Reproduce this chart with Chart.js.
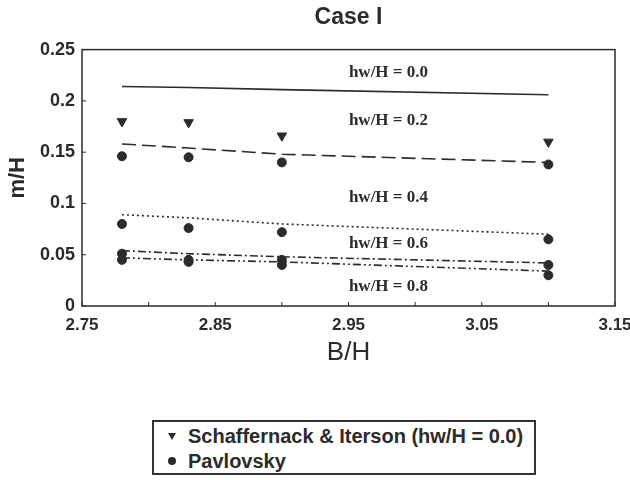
<!DOCTYPE html>
<html>
<head>
<meta charset="utf-8">
<script src="https://cdn.jsdelivr.net/npm/chart.js@4.4.0/dist/chart.umd.min.js"></script>
<style>
  html, body { margin: 0; padding: 0; background: #fff; }
  #wrap { position: relative; width: 630px; height: 480px; }
  #legend {
    position: absolute; left: 152px; top: 420px; width: 380px; height: 51px;
    border: 2px solid #333; background: #fff;
    font: bold 20px Arial, "Liberation Sans", sans-serif; color: #2b2b2b;
  }
  .item { position: absolute; left: 14px; height: 24px; line-height: 24px; white-space: nowrap; }
  .tri { display: inline-block; width: 0; height: 0; border-left: 4px solid transparent;
    border-right: 4px solid transparent; border-top: 7px solid #2b2b2b; margin: 0 12px 3px 0; vertical-align: middle; }
  .dot { display: inline-block; width: 8px; height: 8px; border-radius: 50%; background: #2b2b2b;
    margin: 0 12px 3px 0; vertical-align: middle; }
</style>
</head>
<body>
<div id="wrap">
  <canvas id="chart" width="630" height="480"></canvas>
  <div id="legend">
    <div class="item" style="top:2px"><span class="tri"></span>Schaffernack &amp; Iterson (hw/H = 0.0)</div>
    <div class="item" style="top:27px"><span class="dot"></span>Pavlovsky</div>
  </div>
</div>
<script>
// B/H positions of the four cases
const bh = [2.78, 2.83, 2.90, 3.10];

// Schaffernack & Iterson (hw/H = 0.0)
const schaffernack = [0.180, 0.179, 0.166, 0.160];

// Pavlovsky points for hw/H = 0.2 .. 0.8
const pav02 = [0.146, 0.145, 0.140, 0.138];
const pav04 = [0.080, 0.076, 0.072, 0.065];
const pav06 = [0.051, 0.045, 0.045, 0.040];
const pav08 = [0.045, 0.043, 0.040, 0.030];

// curves for each hw/H
const line00 = [0.214, 0.213, 0.211, 0.206];
const line02 = [0.158, 0.154, 0.148, 0.140];
const line04 = [0.089, 0.086, 0.080, 0.070];
const line06 = [0.054, 0.051, 0.048, 0.042];
const line08 = [0.047, 0.045, 0.043, 0.034];

// in-plot labels (placed in data units)
const labelText = ['hw/H = 0.0', 'hw/H = 0.2', 'hw/H = 0.4', 'hw/H = 0.6', 'hw/H = 0.8'];
const labelX = [2.98, 2.98, 2.98, 2.98, 2.98];
const labelY = [0.228, 0.181, 0.106, 0.061, 0.019];

const ink = '#2b2b2b';
const pts = ys => ys.map((y, i) => ({ x: bh[i], y: y }));

function curve(ys, dash) {
  return {
    data: pts(ys), showLine: true, pointRadius: 0, borderColor: ink,
    borderWidth: 1.6, borderDash: dash, tension: 0, fill: false
  };
}

const framePlugin = {
  id: 'frame',
  afterDraw(chart) {
    const { ctx, chartArea: a, scales } = chart;
    ctx.save();
    ctx.strokeStyle = ink;
    ctx.lineWidth = 1.5;
    ctx.strokeRect(a.left, a.top, a.right - a.left, a.bottom - a.top);
    // small inward ticks
    ctx.lineWidth = 1;
    scales.x.ticks.forEach(t => {
      const px = scales.x.getPixelForValue(t.value);
      ctx.beginPath(); ctx.moveTo(px, a.bottom); ctx.lineTo(px, a.bottom - 4); ctx.stroke();
    });
    scales.y.ticks.forEach(t => {
      const py = scales.y.getPixelForValue(t.value);
      ctx.beginPath(); ctx.moveTo(a.left, py); ctx.lineTo(a.left + 4, py); ctx.stroke();
    });
    // curve labels
    ctx.fillStyle = ink;
    ctx.font = 'bold 17px "Liberation Serif", "Times New Roman", serif';
    ctx.textAlign = 'center';
    ctx.textBaseline = 'middle';
    labelText.forEach((s, i) => {
      ctx.fillText(s, scales.x.getPixelForValue(labelX[i]), scales.y.getPixelForValue(labelY[i]));
    });
    ctx.restore();
  }
};

new Chart(document.getElementById('chart'), {
  type: 'scatter',
  data: {
    datasets: [
      curve(line00, []),
      curve(line02, [14, 6]),
      curve(line04, [2, 3]),
      curve(line06, [8, 3, 2, 3]),
      curve(line08, [8, 3, 2, 3, 2, 3]),
      {
        data: pts(schaffernack), pointStyle: 'triangle', rotation: 180,
        pointRadius: 5.5, backgroundColor: ink, borderColor: ink
      },
      {
        data: [].concat(pts(pav02), pts(pav04), pts(pav06), pts(pav08)),
        pointStyle: 'circle', pointRadius: 4.5, backgroundColor: ink, borderColor: ink
      }
    ]
  },
  plugins: [framePlugin],
  options: {
    responsive: false,
    animation: false,
    layout: { padding: { left: 0, right: 15, top: 0, bottom: 108 } },
    plugins: {
      legend: { display: false },
      tooltip: { enabled: false },
      title: {
        display: true, text: 'Case I', color: ink, fullSize: false,
        font: { size: 23, weight: 'bold', family: 'Arial' },
        padding: { top: 4, bottom: 18 }
      }
    },
    scales: {
      x: {
        type: 'linear', min: 2.75, max: 3.15,
        grid: { display: false, drawTicks: false },
        border: { display: false },
        afterFit: s => { s.height = 66; s.paddingLeft = 0; s.paddingRight = 0; },
        ticks: {
          stepSize: 0.05, autoSkip: false, maxRotation: 0, padding: 9, color: ink,
          font: { size: 17, weight: 'bold', family: 'Arial' },
          callback: (v, i) => (i % 2 === 0 ? v.toFixed(2) : '')
        },
        title: {
          display: true, text: 'B/H', color: ink,
          font: { size: 26, family: 'Arial' }, padding: { top: 0, bottom: 4 }
        }
      },
      y: {
        min: 0, max: 0.25,
        grid: { display: false, drawTicks: false },
        border: { display: false },
        afterFit: s => { s.width = 82; },
        ticks: {
          stepSize: 0.05, padding: 7, color: ink,
          font: { size: 18, weight: 'bold', family: 'Arial' },
          callback: v => (v === 0 ? '0' : String(+v.toFixed(2)))
        },
        title: {
          display: true, text: 'm/H', color: ink,
          font: { size: 22, weight: 'bold', family: 'Arial' }, padding: { top: 5, bottom: 0 }
        }
      }
    }
  }
});
</script>
</body>
</html>
